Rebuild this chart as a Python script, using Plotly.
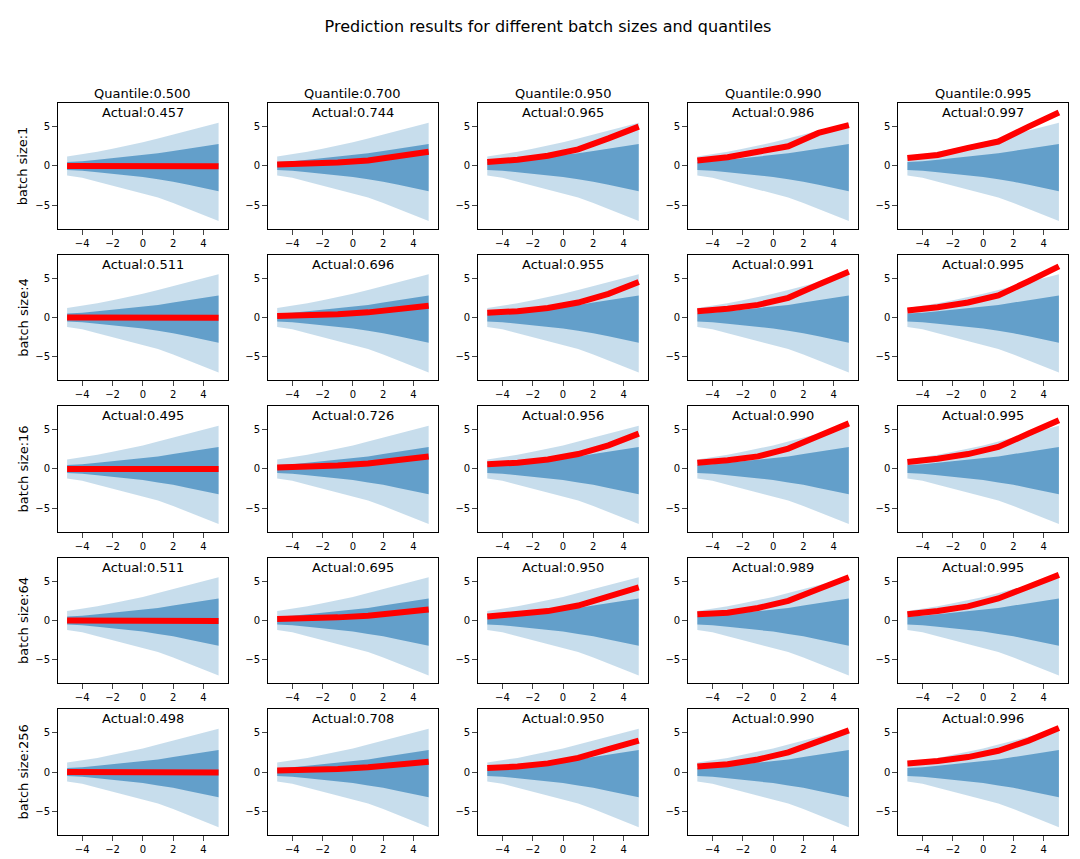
import plotly.graph_objs as go
from plotly.subplots import make_subplots

quantiles = ['0.500', '0.700', '0.950', '0.990', '0.995']
batch_sizes = ['1', '4', '16', '64', '256']

actual = [
    ['0.457', '0.744', '0.965', '0.986', '0.997'],
    ['0.511', '0.696', '0.955', '0.991', '0.995'],
    ['0.495', '0.726', '0.956', '0.990', '0.995'],
    ['0.511', '0.695', '0.950', '0.989', '0.995'],
    ['0.498', '0.708', '0.950', '0.990', '0.996'],
]

# nube de puntos aproximada como bandas
band_x = [-5, -4, -3, -2, -1, 0, 1, 2, 3, 4, 5]
outer_hi = [1.2, 1.5, 1.8, 2.2, 2.6, 3.0, 3.5, 4.0, 4.5, 5.0, 5.5]
outer_lo = [-1.2, -1.5, -2.0, -2.5, -3.0, -3.5, -4.0, -4.7, -5.5, -6.3, -7.0]
inner_hi = [0.5, 0.6, 0.8, 1.0, 1.2, 1.4, 1.6, 1.9, 2.2, 2.5, 2.8]
inner_lo = [-0.5, -0.6, -0.8, -1.0, -1.2, -1.4, -1.7, -2.0, -2.4, -2.8, -3.2]

# predicciones (linea roja)
pred_x = [-5, -3, -1, 1, 3, 5]
pred = [
    [[0.0, 0.0, 0.0, 0.0, 0.0, -0.05], [0.2, 0.3, 0.45, 0.7, 1.2, 1.8], [0.5, 0.8, 1.3, 2.1, 3.5, 5.0], [0.7, 1.1, 1.8, 2.5, 4.2, 5.2], [1.0, 1.4, 2.3, 3.1, 5.0, 6.8]],
    [[0.0, 0.0, 0.0, 0.0, 0.0, -0.05], [0.2, 0.25, 0.4, 0.65, 1.0, 1.5], [0.6, 0.8, 1.2, 1.9, 3.0, 4.5], [0.8, 1.1, 1.6, 2.5, 4.2, 5.8], [0.9, 1.3, 1.9, 2.8, 4.6, 6.5]],
    [[0.0, 0.0, 0.0, 0.0, 0.0, 0.0], [0.2, 0.3, 0.45, 0.7, 1.1, 1.6], [0.6, 0.8, 1.2, 1.9, 3.0, 4.5], [0.8, 1.1, 1.6, 2.6, 4.2, 5.8], [0.9, 1.3, 1.9, 2.8, 4.5, 6.2]],
    [[0.0, 0.0, 0.0, 0.0, 0.0, -0.05], [0.2, 0.25, 0.4, 0.6, 0.95, 1.4], [0.5, 0.8, 1.2, 1.9, 3.0, 4.2], [0.8, 1.0, 1.6, 2.5, 4.0, 5.5], [0.8, 1.2, 1.8, 2.8, 4.3, 5.8]],
    [[0.0, 0.0, 0.0, 0.0, -0.05, -0.05], [0.2, 0.25, 0.4, 0.6, 0.95, 1.3], [0.5, 0.7, 1.1, 1.8, 2.9, 4.0], [0.7, 1.0, 1.6, 2.5, 3.9, 5.3], [1.1, 1.4, 1.9, 2.7, 4.0, 5.6]],
]

fig = make_subplots(rows=5, cols=5, horizontal_spacing=0.04, vertical_spacing=0.035)

for r in range(5):
    for c in range(5):
        fig.add_trace(go.Scatter(x=band_x, y=outer_hi, mode='lines', line=dict(width=0),
                                 showlegend=False, hoverinfo='skip'), row=r + 1, col=c + 1)
        fig.add_trace(go.Scatter(x=band_x, y=outer_lo, mode='lines', line=dict(width=0), fill='tonexty',
                                 fillcolor='rgba(31,119,180,0.25)', showlegend=False, hoverinfo='skip'),
                      row=r + 1, col=c + 1)
        fig.add_trace(go.Scatter(x=band_x, y=inner_hi, mode='lines', line=dict(width=0),
                                 showlegend=False, hoverinfo='skip'), row=r + 1, col=c + 1)
        fig.add_trace(go.Scatter(x=band_x, y=inner_lo, mode='lines', line=dict(width=0), fill='tonexty',
                                 fillcolor='rgba(31,119,180,0.6)', showlegend=False, hoverinfo='skip'),
                      row=r + 1, col=c + 1)
        fig.add_trace(go.Scatter(x=pred_x, y=pred[r][c], mode='lines', line=dict(color='red', width=6),
                                 showlegend=False), row=r + 1, col=c + 1)
        idx = r * 5 + c + 1
        sfx = '' if idx == 1 else str(idx)
        fig.add_annotation(x=0.5, y=1.0, xref='x%s domain' % sfx, yref='y%s domain' % sfx,
                           text='Actual:' + actual[r][c], showarrow=False, yanchor='top',
                           font=dict(size=13, color='black'))
        if r == 0:
            fig.add_annotation(x=0.5, y=1.0, xref='x%s domain' % sfx, yref='y%s domain' % sfx,
                               text='Quantile:' + quantiles[c], showarrow=False, yanchor='bottom',
                               font=dict(size=13, color='black'))
        if c == 0:
            fig.add_annotation(x=-0.26, y=0.5, xref='x%s domain' % sfx, yref='y%s domain' % sfx,
                               text='batch size:' + batch_sizes[r], showarrow=False, textangle=-90,
                               font=dict(size=13, color='black'))

fig.update_xaxes(range=[-5.6, 5.6], tickvals=[-4, -2, 0, 2, 4], showgrid=False, zeroline=False,
                 showline=True, linecolor='black', mirror=True, ticks='outside', tickfont=dict(size=10))
fig.update_yaxes(range=[-8, 8], tickvals=[-5, 0, 5], showgrid=False, zeroline=False,
                 showline=True, linecolor='black', mirror=True, ticks='outside', tickfont=dict(size=10))

fig.update_layout(
    title=dict(text='Prediction results for different batch sizes and quantiles', x=0.5, y=0.985,
               font=dict(size=16, color='black')),
    width=1080, height=859,
    margin=dict(l=50, r=20, t=95, b=20),
    plot_bgcolor='white', paper_bgcolor='white',
    font=dict(family='DejaVu Sans', color='black'),
)

fig.write_html('out.html')
